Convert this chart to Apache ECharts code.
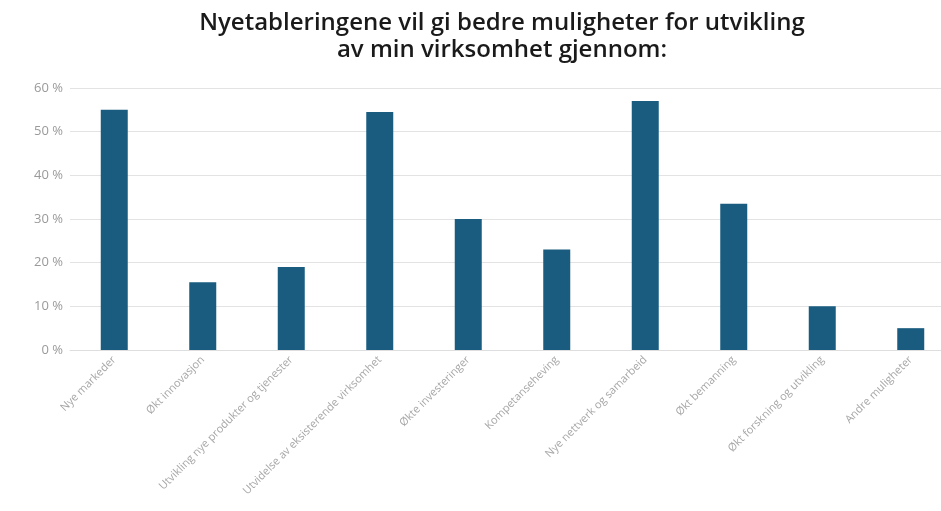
<!DOCTYPE html>
<html>
<head>
<meta charset="utf-8">
<script src="https://cdn.jsdelivr.net/npm/echarts@6.0.0/dist/echarts.min.js"></script>
<style>
  html, body { margin: 0; padding: 0; background: #fff; }
  #chart { width: 941px; height: 511px; }
</style>
</head>
<body>
<div id="chart"></div>
<script>
"use strict";

// data
const categories = [
    "Nye markeder",
    "Økt innovasjon",
    "Utvikling nye produkter og tjenester",
    "Utvidelse av eksisterende virksomhet",
    "Økte investeringer",
    "Kompetanseheving",
    "Nye nettverk og samarbeid",
    "Økt bemanning",
    "Økt forskning og utvikling",
    "Andre muligheter"
];
const shares = [55, 15.5, 19, 54.5, 30, 23, 57, 33.5, 10, 5];
const yTicks = [0, 10, 20, 30, 40, 50, 60];

const chart = echarts.init(document.getElementById("chart"));

chart.setOption({
    animation: false,
    title: {
        text: "Nyetableringene vil gi bedre muligheter for utvikling\nav min virksomhet gjennom:",
        // title sits a bit right of the page centre, over the plot area
        left: 497,
        textAlign: "center",
        top: 5,
        textStyle: {
            fontFamily: "Open Sans",
            fontSize: 24,
            fontWeight: 600,
            color: "#1a1a1a",
            lineHeight: 27
        }
    },
    // the last category runs a little past the right edge of the picture
    grid: { left: 70, width: 885, top: 88, bottom: 161, outerBoundsMode: "none" },
    xAxis: {
        type: "category",
        data: categories,
        axisLine: { lineStyle: { color: "#dedede" } },
        axisTick: { show: false },
        axisLabel: {
            rotate: 45,
            interval: 0,
            margin: 8,
            color: "#a6a6a6",
            fontFamily: "Open Sans",
            fontSize: 11
        }
    },
    yAxis: {
        type: "value",
        min: yTicks[0],
        max: yTicks[yTicks.length - 1],
        interval: 10,
        axisLine: { show: false },
        axisTick: { show: false },
        splitLine: { lineStyle: { color: "#e3e3e3" } },
        axisLabel: {
            color: "#9a9a9a",
            fontFamily: "Open Sans",
            fontSize: 13,
            margin: 7,
            formatter: v => v + " %"
        }
    },
    series: [{
        type: "bar",
        data: shares,
        barWidth: 27,
        itemStyle: { color: "#195c7f" }
    }]
});
</script>
</body>
</html>
